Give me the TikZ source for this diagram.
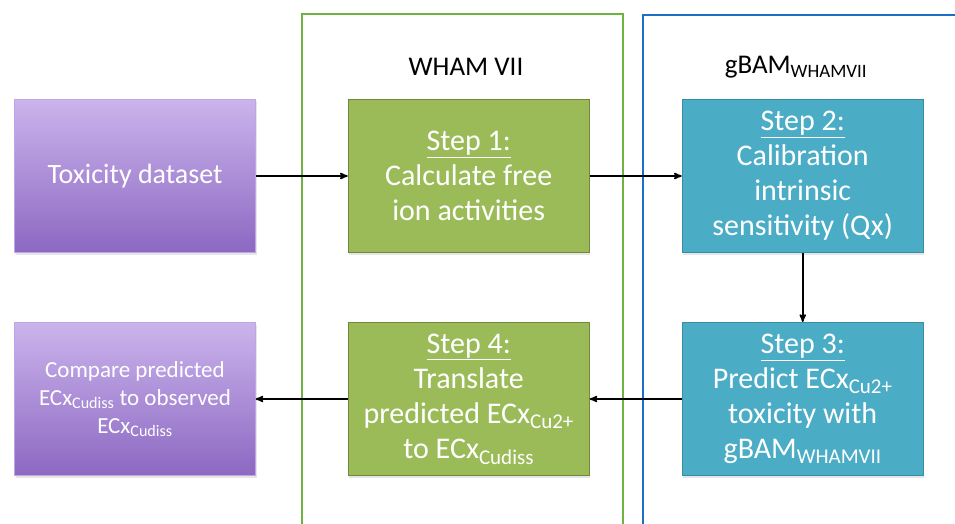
\documentclass[tikz,border=0pt]{standalone}
\usepackage{fontspec}
\setmainfont{Carlito}
\usepackage{tikz}
\usetikzlibrary{positioning, arrows, shadows}
\definecolor{stepgreen}{HTML}{9BBB59}
\definecolor{stepgreenline}{HTML}{71893F}
\definecolor{stepblue}{HTML}{4BACC6}
\definecolor{stepblueline}{HTML}{3A8CA3}
\definecolor{purpletop}{HTML}{CBB4EC}
\definecolor{purplebottom}{HTML}{8C68C2}
\definecolor{framegreen}{HTML}{6DB33F}
\definecolor{frameblue}{HTML}{1C6FC9}
\tikzset{
>=stealth', % small solid arrow heads
box/.style={minimum width=241pt, minimum height=153pt, align=center, text=white,
  font=\fontsize{30}{35}\selectfont, drop shadow={opacity=0.2, shadow xshift=1pt, shadow yshift=-2pt}}, % every coloured box
databox/.style={box, top color=purpletop, bottom color=purplebottom, draw=purpletop!80!purplebottom, thin},
whambox/.style={box, fill=stepgreen, draw=stepgreenline, line width=1pt},
gbambox/.style={box, fill=stepblue, draw=stepblueline, line width=1pt},
flow/.style={->, line width=1.6pt}, % the arrows between boxes
frametitle/.style={font=\fontsize{27}{31}\selectfont},
}

\begin{document}
\begin{tikzpicture}[x=1pt, y=1pt]
        \useasboundingbox (0,0) rectangle (955,523);

        % the two model frames
        \draw[framegreen, line width=2.2pt] (302,-5) |- (623,509) -- (623,-5);
        \draw[frameblue, line width=2.6pt] (643,-5) |- (960,508);
        \node[frametitle] (whamtitle) at (466,456) {WHAM VII};
        \node[frametitle] (gbamtitle) at (796,456) {gBAM\textsubscript{WHAMVII}};

        \node[databox, font=\fontsize{28}{33}\selectfont] (tox) at (135,347) {Toxicity dataset};
        \node[whambox, right=92pt of tox] (step1) {\underline{Step 1:}\\Calculate free\\ion activities};
        \node[gbambox, right=92pt of step1] (step2) {\underline{Step 2:}\\Calibration\\intrinsic\\sensitivity (Qx)};
        \node[gbambox, below=69pt of step2] (step3) {\underline{Step 3:}\\Predict ECx\textsubscript{Cu2+}\\toxicity with\\gBAM\textsubscript{WHAMVII}};
        \node[whambox, left=92pt of step3] (step4) {\underline{Step 4:}\\Translate\\predicted ECx\textsubscript{Cu2+}\\to ECx\textsubscript{Cudiss}};
        \node[databox, left=92pt of step4, font=\fontsize{23}{28}\selectfont] (compare) {Compare predicted\\ECx\textsubscript{Cudiss} to observed\\ECx\textsubscript{Cudiss}};

        \draw[flow] (tox) -- (step1);
        \draw[flow] (step1) -- (step2);
        \draw[flow] (step2) -- (step3);
        \draw[flow] (step3) -- (step4);
        \draw[flow] (step4) -- (compare);
      \end{tikzpicture}
\end{document}
